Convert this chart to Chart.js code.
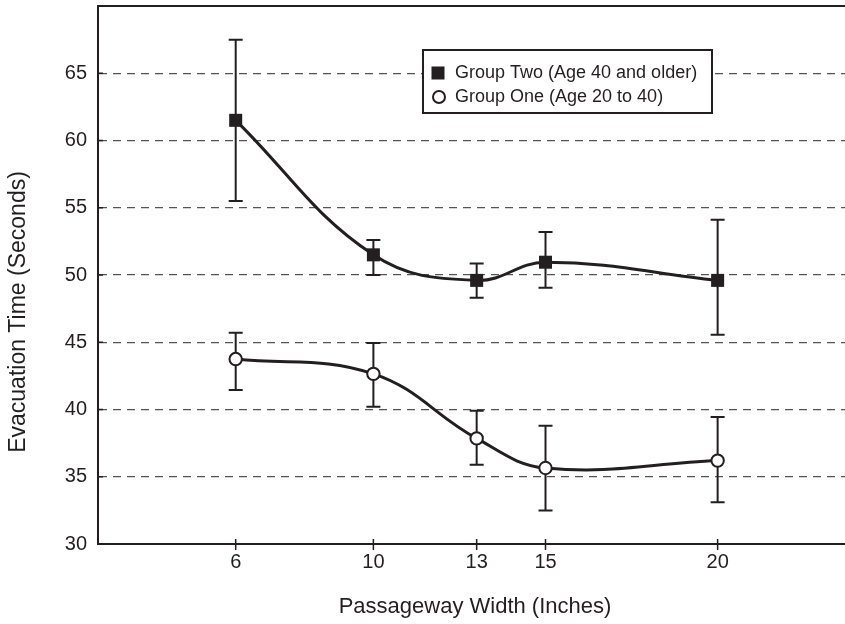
<!DOCTYPE html>
<html>
<head>
<meta charset="utf-8">
<script src="https://cdn.jsdelivr.net/npm/chart.js@4"></script>
<style>
  body { margin: 0; background: #fff; }
  #chart { display: block; }
</style>
</head>
<body>
<canvas id="chart" width="845" height="624"></canvas>
<script>
// Passageway widths (inches)
const widths = [6, 10, 13, 15, 20];

// Group Two (Age 40 and older)
const groupTwoMean = [61.5, 51.5, 49.6, 50.95, 49.6];
const groupTwoLow = [55.5, 50.0, 48.3, 49.05, 45.55];
const groupTwoHigh = [67.5, 52.6, 50.85, 53.2, 54.1];

// Group One (Age 20 to 40)
const groupOneMean = [43.75, 42.65, 37.85, 35.65, 36.2];
const groupOneLow = [41.45, 40.2, 35.9, 32.5, 33.1];
const groupOneHigh = [45.7, 44.95, 39.9, 38.8, 39.45];

const yTicks = [30, 35, 40, 45, 50, 55, 60, 65];

const labels = {
  two: "Group Two (Age 40 and older)",
  one: "Group One (Age 20 to 40)",
  xTitle: "Passageway Width (Inches)",
  yTitle: "Evacuation Time (Seconds)",
};

const ink = "#231f20";
const fontFamily = "'Liberation Sans', Arial, Helvetica, sans-serif";

const toPoints = (ys) => widths.map((x, i) => ({ x: x, y: ys[i] }));

// no extra room around the scales, the plot box is fixed
const noPadding = (scale) => {
  scale.paddingTop = 0;
  scale.paddingBottom = 0;
  scale.paddingLeft = 0;
  scale.paddingRight = 0;
};

// error bars, drawn under the lines and markers
const errorBarPlugin = {
  id: "errorBars",
  beforeDatasetsDraw(chart) {
    const ctx = chart.ctx;
    const xs = chart.scales.x;
    const ys = chart.scales.y;
    ctx.save();
    ctx.strokeStyle = ink;
    ctx.lineWidth = 2;
    chart.data.datasets.forEach((ds) => {
      ds.low.forEach((lo, i) => {
        const px = xs.getPixelForValue(widths[i]);
        const pLo = ys.getPixelForValue(lo);
        const pHi = ys.getPixelForValue(ds.high[i]);
        ctx.beginPath();
        ctx.moveTo(px, pLo);
        ctx.lineTo(px, pHi);
        ctx.moveTo(px - 7, pLo);
        ctx.lineTo(px + 7, pLo);
        ctx.moveTo(px - 7, pHi);
        ctx.lineTo(px + 7, pHi);
        ctx.stroke();
      });
    });
    ctx.restore();
  },
};

// axis titles, tick marks across the axes and the boxed legend
const decorPlugin = {
  id: "decor",
  afterDraw(chart) {
    const ctx = chart.ctx;
    const area = chart.chartArea;
    const xs = chart.scales.x;
    const ys = chart.scales.y;
    ctx.save();

    // tick marks
    ctx.strokeStyle = ink;
    ctx.lineWidth = 1.5;
    ctx.beginPath();
    widths.forEach((w) => {
      const px = xs.getPixelForValue(w);
      ctx.moveTo(px, area.bottom - 5);
      ctx.lineTo(px, area.bottom + 6);
    });
    yTicks.forEach((v) => {
      const py = ys.getPixelForValue(v);
      ctx.moveTo(area.left, py);
      ctx.lineTo(area.left + 5, py);
    });
    ctx.stroke();

    // axis titles
    ctx.fillStyle = ink;
    ctx.textAlign = "center";
    ctx.textBaseline = "middle";
    ctx.font = "22px " + fontFamily;
    ctx.fillText(labels.xTitle, 475, 607);
    ctx.save();
    ctx.translate(19, 312);
    ctx.rotate(-Math.PI / 2);
    ctx.font = "23px " + fontFamily;
    ctx.fillText(labels.yTitle, 0, 0);
    ctx.restore();

    // legend
    const bx = 423, by = 50, bw = 289, bh = 63;
    ctx.fillStyle = "#fff";
    ctx.fillRect(bx, by, bw, bh);
    ctx.strokeStyle = ink;
    ctx.lineWidth = 2;
    ctx.strokeRect(bx, by, bw, bh);

    ctx.fillStyle = ink;
    ctx.fillRect(438 - 6.5, 73 - 6.5, 13, 13);
    ctx.beginPath();
    ctx.arc(439, 97, 6, 0, Math.PI * 2);
    ctx.fillStyle = "#fff";
    ctx.fill();
    ctx.lineWidth = 2;
    ctx.stroke();

    ctx.fillStyle = ink;
    ctx.font = "18px " + fontFamily;
    ctx.textAlign = "left";
    ctx.fillText(labels.two, 455, 73);
    ctx.fillText(labels.one, 455, 97);
    ctx.restore();
  },
};

new Chart(document.getElementById("chart"), {
  type: "line",
  data: {
    datasets: [
      {
        label: labels.two,
        data: toPoints(groupTwoMean),
        low: groupTwoLow,
        high: groupTwoHigh,
        borderColor: ink,
        borderWidth: 3,
        tension: 0.4,
        pointStyle: "rect",
        pointRadius: 9.2,
        pointBackgroundColor: ink,
        pointBorderColor: ink,
        pointBorderWidth: 0,
      },
      {
        label: labels.one,
        data: toPoints(groupOneMean),
        low: groupOneLow,
        high: groupOneHigh,
        borderColor: ink,
        borderWidth: 3,
        tension: 0.4,
        pointStyle: "circle",
        pointRadius: 6.2,
        pointBackgroundColor: "#fff",
        pointBorderColor: ink,
        pointBorderWidth: 2,
      },
    ],
  },
  options: {
    responsive: false,
    animation: false,
    devicePixelRatio: 1,
    layout: { padding: 0, autoPadding: false },
    plugins: {
      legend: { display: false },
      tooltip: { enabled: false },
    },
    scales: {
      x: {
        type: "linear",
        position: "bottom",
        min: 2,
        max: 23.7,
        afterBuildTicks: (scale) => {
          scale.ticks = widths.map((w) => ({ value: w }));
        },
        afterFit: (scale) => {
          scale.height = 80;
          noPadding(scale);
        },
        grid: { display: false, drawTicks: false },
        border: { display: true, color: ink, width: 2 },
        ticks: {
          padding: 6,
          color: ink,
          font: { family: fontFamily, size: 20 },
          maxRotation: 0,
        },
      },
      xTop: {
        type: "linear",
        position: "top",
        min: 2,
        max: 23.7,
        afterFit: (scale) => {
          scale.height = 6;
          noPadding(scale);
        },
        grid: { display: false, drawTicks: false },
        border: { display: true, color: ink, width: 2 },
        ticks: { display: false },
      },
      y: {
        min: 30,
        max: 70,
        afterBuildTicks: (scale) => {
          scale.ticks = yTicks.map((v) => ({ value: v }));
        },
        afterFit: (scale) => {
          scale.width = 98;
          noPadding(scale);
        },
        grid: {
          drawTicks: false,
          color: (c) => (c.tick && c.tick.value === 30 ? "rgba(0,0,0,0)" : "#555"),
          lineWidth: 1.3,
        },
        border: { display: true, color: ink, width: 2, dash: [8, 6] },
        ticks: {
          padding: 11,
          color: ink,
          font: { family: fontFamily, size: 20 },
        },
      },
    },
  },
  plugins: [errorBarPlugin, decorPlugin],
});
</script>
</body>
</html>
